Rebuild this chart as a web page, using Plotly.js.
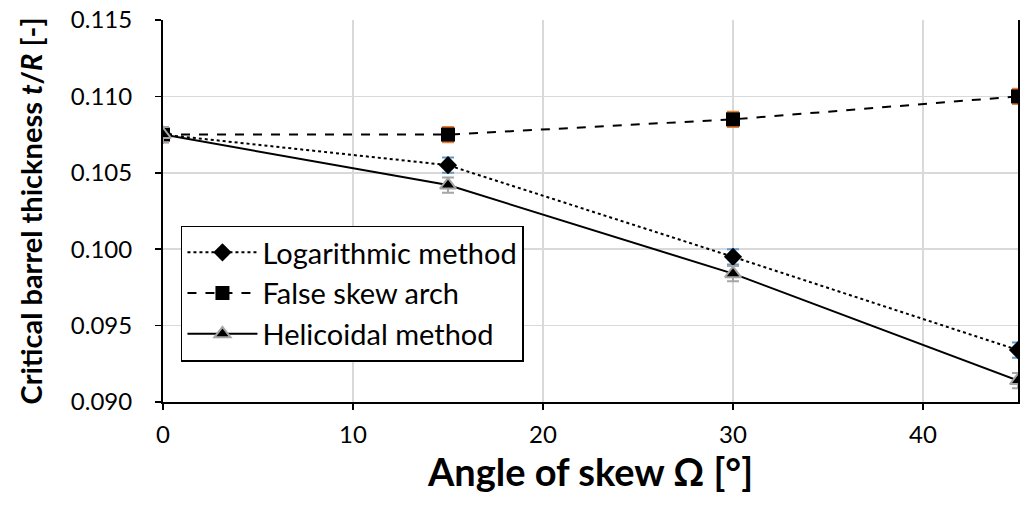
<!DOCTYPE html>
<html>
<head>
<meta charset="utf-8">
<script src="https://cdn.plot.ly/plotly-3.0.1.min.js"></script>
<style>html,body{margin:0;padding:0;background:#fff}#chart{width:1022px;height:513px}</style>
</head>
<body>
<div id="chart"></div>
<script>
const angles = [0, 15, 30, 45];
const logarithmic = [0.1075, 0.1055, 0.0995, 0.0934];
const falseSkew = [0.1075, 0.1075, 0.1085, 0.1100];
const helicoidal = [0.1075, 0.1042, 0.0984, 0.0914];
const errLog = [0.0005, 0.0005, 0.0005, 0.0005];
const errFalse = [0.0005, 0.0005, 0.0005, 0.0005];
const errHel = [0.0005, 0.0005, 0.0005, 0.0005];
const seriesNames = ['Logarithmic method', 'False skew arch', 'Helicoidal method'];
const yTicks = [0.090, 0.095, 0.100, 0.105, 0.110, 0.115];
const yTickText = ['0.090', '0.095', '0.100', '0.105', '0.110', '0.115'];
const xTicks = [0, 10, 20, 30, 40];

const FONT = 'Lato, "Open Sans", sans-serif';

const traces = [
  {
    x: angles, y: logarithmic, name: seriesNames[0], type: 'scatter', mode: 'lines+markers',
    line: {color: '#000', width: 2, dash: 'dot'},
    marker: {symbol: 'diamond', size: 14, color: '#000'},
    error_y: {type: 'data', array: errLog, visible: true, color: '#5B9BD5', thickness: 2, width: 6}
  },
  {
    x: angles, y: falseSkew, name: seriesNames[1], type: 'scatter', mode: 'lines+markers',
    line: {color: '#000', width: 2, dash: 'dash'},
    marker: {symbol: 'square', size: 14, color: '#000'},
    error_y: {type: 'data', array: errFalse, visible: true, color: '#ED7D31', thickness: 2, width: 6}
  },
  {
    x: angles, y: helicoidal, name: seriesNames[2], type: 'scatter', mode: 'lines+markers',
    line: {color: '#000', width: 2, dash: 'solid'},
    marker: {symbol: 'triangle-up', size: 14, color: '#000', line: {color: '#A5A5A5', width: 2}},
    error_y: {type: 'data', array: errHel, visible: true, color: '#A5A5A5', thickness: 2, width: 6}
  }
];

const layout = {
  width: 1022, height: 513,
  margin: {l: 163, r: 4, t: 20, b: 111},
  paper_bgcolor: '#fff', plot_bgcolor: '#fff',
  font: {family: FONT, size: 24, color: '#000'},
  showlegend: true,
  legend: {
    x: 0.021, y: 0.462, xanchor: 'left', yanchor: 'top',
    bgcolor: '#fff', bordercolor: '#000', borderwidth: 1.5,
    font: {family: FONT, size: 29, color: '#000'},
    tracegroupgap: 0, itemwidth: 70
  },
  xaxis: {
    range: [0, 45], tickvals: xTicks, ticktext: xTicks.map(String),
    showgrid: true, gridcolor: '#D9D9D9', gridwidth: 1.5,
    showline: true, linecolor: '#000', linewidth: 2, mirror: false,
    ticks: 'outside', ticklen: 6, tickwidth: 1.5, tickcolor: '#000',
    zeroline: false, ticklabelstandoff: 4,
    tickfont: {family: FONT, size: 24},
    title: {text: '<b>Angle of skew Ω [°]</b>', font: {family: FONT, size: 38}, standoff: 3},
    automargin: false
  },
  yaxis: {
    range: [0.090, 0.115], tickvals: yTicks, ticktext: yTickText,
    showgrid: true, gridcolor: '#D9D9D9', gridwidth: 1.5,
    showline: true, linecolor: '#000', linewidth: 2, mirror: true,
    ticks: 'outside', ticklen: 6, tickwidth: 1.5, tickcolor: '#000',
    zeroline: false, ticklabelstandoff: 18,
    tickfont: {family: FONT, size: 24},
    title: {text: '<b>Critical barrel thickness <i>t</i>/<i>R</i> [-]</b>', font: {family: FONT, size: 29}, standoff: 20},
    automargin: false
  }
};

Plotly.newPlot('chart', traces, layout, {displayModeBar: false, staticPlot: true});
</script>
</body>
</html>
